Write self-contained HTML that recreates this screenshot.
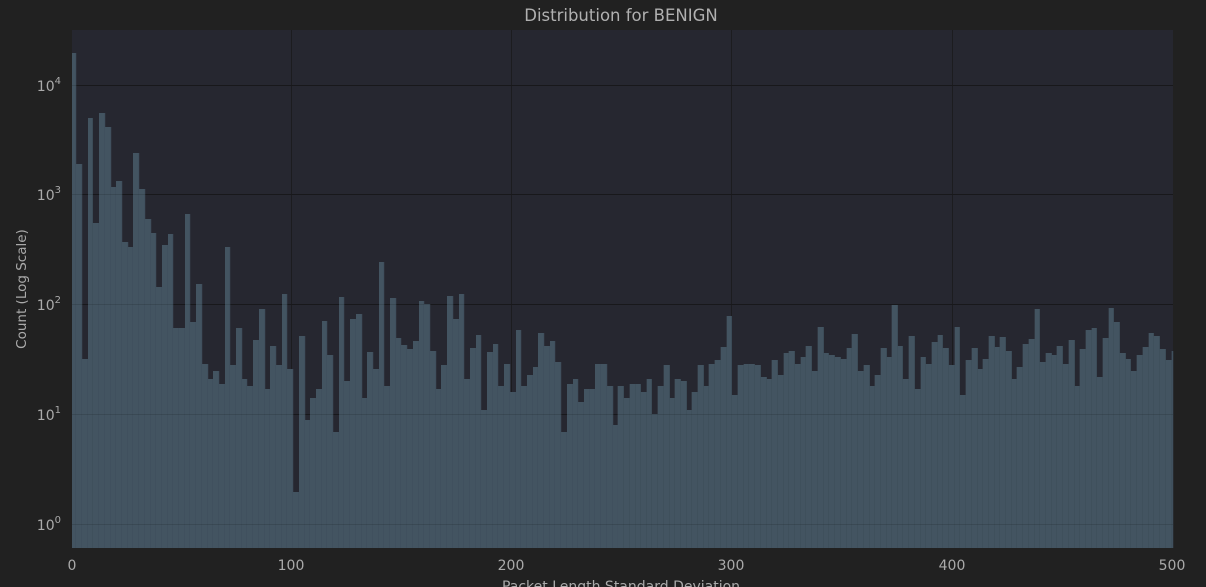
<!DOCTYPE html>
<html><head><meta charset="utf-8"><style>
html,body{margin:0;padding:0;background:#212121;}
svg{display:block;font-family:"DejaVu Sans","Liberation Sans",sans-serif;}
</style></head><body>
<svg id="s" width="1206" height="587" xmlns="http://www.w3.org/2000/svg">
<rect width="1206" height="587" fill="#212121"/>
<rect x="72" y="30" width="1101" height="518" fill="#262730"/>
<g id="grid" stroke="#1c1c1f" stroke-width="1"></g>
<g id="bars"></g>
<g id="hgrid" stroke="#000" stroke-width="1" opacity="0.12"></g>
<text x="621" y="21" fill="#b0b0b0" font-size="16.5" text-anchor="middle">Distribution for BENIGN</text>
<g fill="#aaaaaa" font-size="14" text-anchor="middle">
<text x="72" y="570">0</text><text x="291" y="570">100</text><text x="511" y="570">200</text><text x="731" y="570">300</text><text x="952" y="570">400</text><text x="1172" y="570">500</text>
<text x="621" y="591">Packet Length Standard Deviation</text>
<text transform="translate(26,289) rotate(-90)" font-size="13.5">Count (Log Scale)</text>
</g>
<g fill="#aaaaaa" font-size="14" text-anchor="end">
<text x="61" y="530">10<tspan dy="-7" font-size="10">0</tspan></text>
<text x="61" y="420">10<tspan dy="-7" font-size="10">1</tspan></text>
<text x="61" y="310">10<tspan dy="-7" font-size="10">2</tspan></text>
<text x="61" y="200">10<tspan dy="-7" font-size="10">3</tspan></text>
<text x="61" y="91">10<tspan dy="-7" font-size="10">4</tspan></text>
</g>
</svg>
<script>
var NS="http://www.w3.org/2000/svg";
function el(p,t,a){var e=document.createElementNS(NS,t);for(var k in a)e.setAttribute(k,a[k]);p.appendChild(e);return e;}
var g=document.getElementById('grid'),hg=document.getElementById('hgrid'),b=document.getElementById('bars');
[291,511,731,952].forEach(function(x){el(g,'line',{x1:x+.5,x2:x+.5,y1:30,y2:548});});
[85,194,304,414,524].forEach(function(y){el(g,'line',{x1:72,x2:1173,y1:y+.5,y2:y+.5});el(hg,'line',{x1:72,x2:1173,y1:y+.5,y2:y+.5});});
var segs=[
{x0:66,end:834,s:[[18,53],[30,164],[48,359],[66,118],[80,223],[99,113],[117,127],[135,187],[150,181],[168,242],[186,247],[201,153],[219,189],[237,219],[255,233],[270,287],[288,245],[306,234],[321,328],[339,328],[357,214],[372,322],[390,284],[408,364],[426,379],[441,371],[459,384],[477,247],[492,365],[510,328],[528,379],[543,386],[561,340],[579,309],[597,389],[612,346],[630,365],[648,294],[663,369],[681,492],[699,336],[717,420],[732,398],[750,389],[768,321],[783,355],[801,432],[819,297]]},
{x0:340,end:834,s:[[12,381],[30,319],[48,314],[66,398],[81,352],[99,369],[117,262],[132,386],[150,298],[168,338],[183,345],[201,349],[219,341],[237,301],[252,304],[270,351],[288,389],[303,365],[321,296],[339,319],[357,294],[372,379],[390,348],[408,335],[423,410],[441,352],[459,344],[474,386],[492,364],[510,392],[528,330],[543,386],[561,375],[579,367],[594,333],[612,346],[630,341],[645,362],[663,432],[681,384],[699,379],[714,402],[732,389],[750,389],[765,364],[783,364],[801,386],[819,425]]},
{x0:610,end:863,s:[[23,386],[41,398],[59,384],[77,384],[92,392],[110,379],[125,414],[143,386],[161,365],[179,398],[194,379],[212,381],[230,410],[245,392],[263,365],[281,386],[296,364],[314,360],[332,347],[350,316],[365,395],[383,365],[401,364],[416,364],[434,365],[452,377],[470,379],[485,360],[503,375],[521,353],[536,351],[554,364],[572,357],[587,346],[605,371],[623,327],[641,353],[656,355],[674,357],[692,359],[710,348],[725,334],[743,371],[761,365],[779,386],[794,375],[812,348],[830,357],[845,305]]},
{x0:890,end:849,s:[[23,346],[38,379],[56,336],[74,389],[92,357],[107,364],[125,342],[143,335],[158,348],[176,365],[194,327],[209,395],[227,360],[245,348],[263,369],[278,359],[296,336],[314,347],[329,337],[347,351],[365,379],[380,367],[398,344],[416,339],[434,309],[449,362],[467,353],[485,355],[500,346],[518,364],[536,340],[554,386],[569,349],[587,330],[605,328],[620,377],[638,338],[656,308],[671,322],[689,353],[707,359],[722,371],[740,355],[758,347],[776,333],[791,336],[809,349],[827,360],[845,351]]}
];
segs.forEach(function(sg){
  for(var i=0;i<sg.s.length;i++){
    var xs=sg.x0+sg.s[i][0]/3, xe=sg.x0+(i+1<sg.s.length?sg.s[i+1][0]:sg.end)/3;
    var top=sg.s[i][1];
    el(b,'rect',{x:xs,y:top,width:xe-xs,height:548-top,fill:'#435461'});
    el(b,'line',{x1:xe,x2:xe,y1:top,y2:548,stroke:'#3a4955','stroke-width':0.6});
  }
});
</script>
</body></html>
